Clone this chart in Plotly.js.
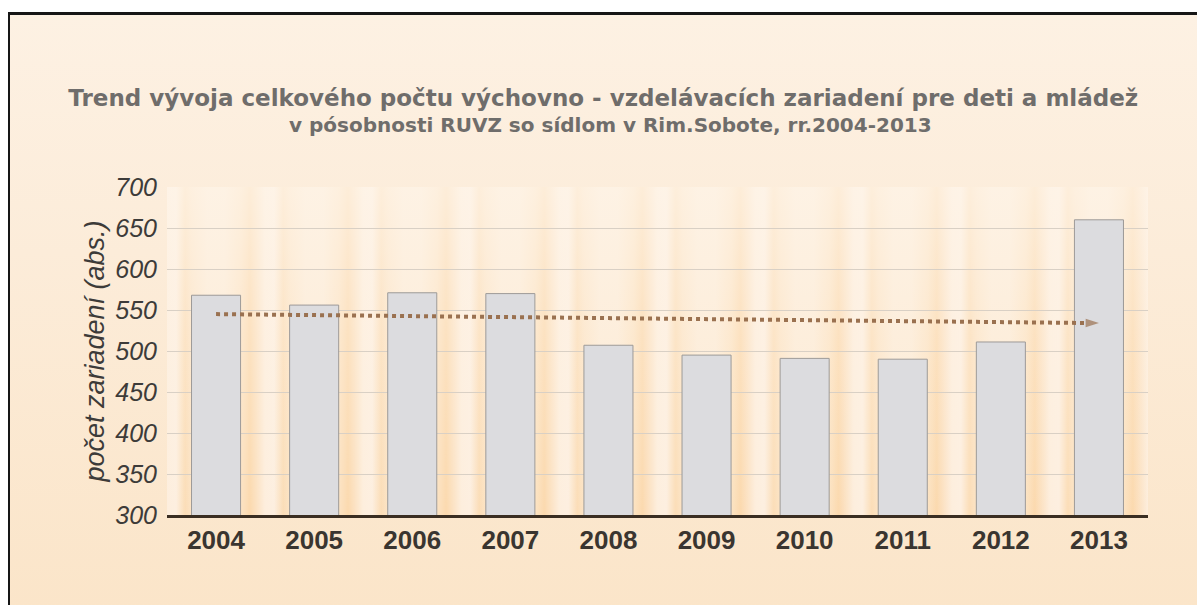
<!DOCTYPE html>
<html>
<head>
<meta charset="utf-8">
<script src="https://cdn.plot.ly/plotly-3.0.1.min.js"></script>
<style>
  html, body { margin:0; padding:0; background:#ffffff; }
  #wrap { position:relative; width:1197px; height:605px; overflow:hidden; background:#ffffff; }
  #frame { position:absolute; left:8px; top:12px; width:1189px; height:593px;
           border-top:3px solid #161616; border-left:2px solid #161616;
           background: linear-gradient(to bottom, #fdf1e3 0%, #fcecd9 40%, #fbe5c9 100%); }
  #stripes { position:absolute; left:167px; top:187px; width:981px; height:328px;
             background:
               linear-gradient(to bottom, rgba(254,245,234,0.7) 0%, rgba(254,245,234,0.3) 45%, rgba(254,245,234,0) 100%),
               repeating-linear-gradient(to right,
                 #fdeedd 0px, #fdefe0 9px, #fbddb7 18px, #fce4c6 25px,
                 #fcebd6 40px, #fcebd6 58px,
                 #fce3c3 74px, #fbd9ae 83px, #fce5ca 92px, #fdeedd 98px);
             background-size: 981px 328px, 98.1px 328px; }
  #plot { position:absolute; left:0; top:0; width:1197px; height:605px; }
</style>
</head>
<body>
<div id="wrap">
  <div id="frame"></div>
  <div id="stripes"></div>
  <div id="plot"></div>
</div>
<script>
// ---- data ----
const years = ['2004','2005','2006','2007','2008','2009','2010','2011','2012','2013'];
const counts = [568, 556, 571, 570, 507, 495, 491, 490, 511, 660];
const trendYears = ['2004','2013'];
const trendValues = [545, 534];
const yTicks = [300, 350, 400, 450, 500, 550, 600, 650, 700];

const titleLine1 = 'Trend vývoja celkového počtu výchovno - vzdelávacích zariadení pre deti a mládež';
const titleLine2 = 'v pósobnosti RUVZ so sídlom v Rim.Sobote, rr.2004-2013';
const yTitle = 'počet zariadení (abs.)';

const bars = {
  type: 'bar',
  x: years,
  y: counts,
  marker: { color: '#dcdcdf', line: { color: '#9d9a98', width: 1 } },
  hoverinfo: 'x+y',
  showlegend: false
};

const trend = {
  type: 'scatter',
  mode: 'lines+markers',
  x: trendYears,
  y: trendValues,
  line: { color: '#9a7150', width: 4, dash: 'dot' },
  marker: { symbol: ['circle', 'arrow'], size: [0, 14], angleref: 'previous',
            color: '#9a7150', line: { width: 0 } },
  hoverinfo: 'skip',
  showlegend: false
};

const titleFont = 'DejaVu Sans, Liberation Sans, Arial, sans-serif';
const layout = {
  width: 1197, height: 605,
  margin: { l: 167, r: 49, t: 187, b: 90, pad: 0 },
  paper_bgcolor: 'rgba(0,0,0,0)',
  plot_bgcolor: 'rgba(0,0,0,0)',
  font: { family: 'Liberation Sans, Arial, sans-serif', color: '#3b3b3b' },
  title: {
    text: '<b>' + titleLine1 + '</b>',
    font: { size: 23, color: '#6f6d6b', family: titleFont },
    x: 0.504, xanchor: 'center', y: 1 - 98/605, yanchor: 'middle'
  },
  annotations: [{
    text: '<b>' + titleLine2 + '</b>',
    xref: 'paper', yref: 'paper', x: 0.452, y: 1 + (187 - 125)/328,
    xanchor: 'center', yanchor: 'middle', showarrow: false,
    font: { size: 20, color: '#6f6d6b', family: titleFont }
  }],
  bargap: 0.5,
  xaxis: {
    type: 'category',
    range: [-0.5, 9.5],
    showgrid: false,
    showline: true, linecolor: '#3a2e22', linewidth: 3,
    ticks: '',
    tickfont: { size: 26, color: '#3a3530', family: 'Liberation Sans, Arial, sans-serif', weight: 'bold' },
    fixedrange: true
  },
  yaxis: {
    range: [300, 700],
    tickvals: yTicks,
    showgrid: true, gridcolor: '#d9d0c5', gridwidth: 1,
    zeroline: false, showline: false,
    ticks: '', ticklabelstandoff: 9,
    tickfont: { size: 25, color: '#3d3b39', family: 'Liberation Sans, Arial, sans-serif', style: 'italic' },
    title: { text: yTitle, standoff: 2,
             font: { size: 27, color: '#3d3b39', family: 'Liberation Sans, Arial, sans-serif', style: 'italic' } },
    fixedrange: true
  }
};

Plotly.newPlot('plot', [bars, trend], layout, { displayModeBar: false, staticPlot: true });
</script>
</body>
</html>
